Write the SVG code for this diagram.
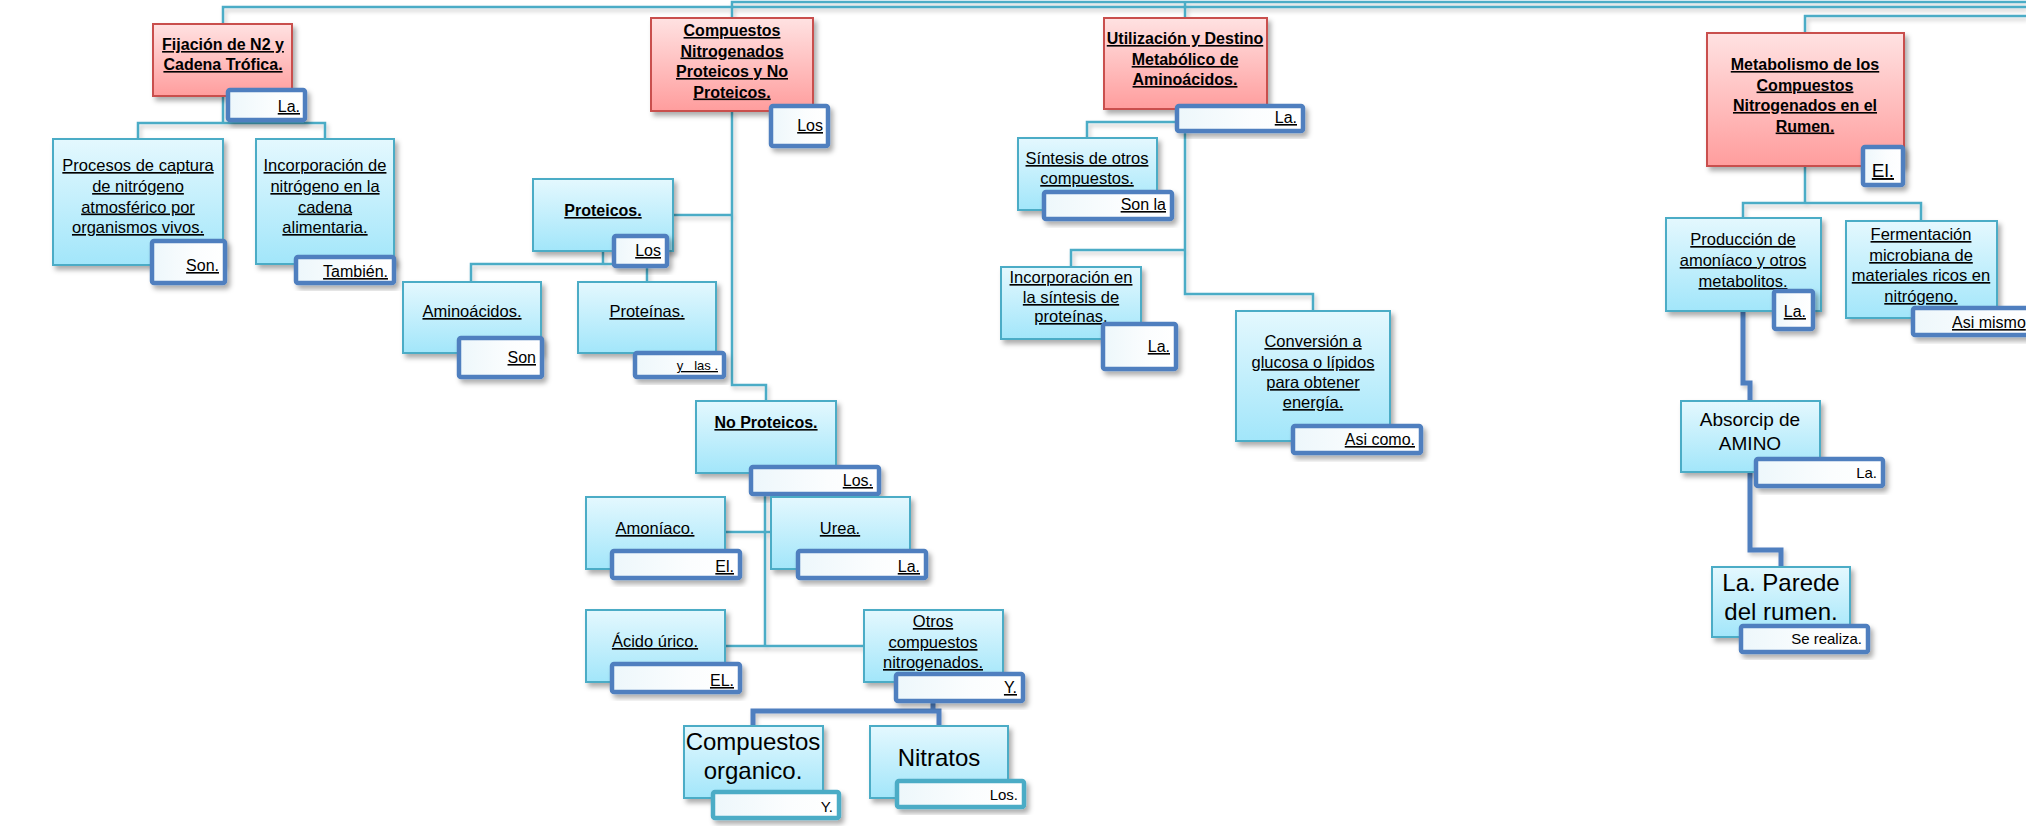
<svg xmlns="http://www.w3.org/2000/svg" width="2026" height="829" viewBox="0 0 2026 829">
<defs>
<linearGradient id="gRed" x1="0" y1="0" x2="0" y2="1"><stop offset="0" stop-color="#ffe2e2"/><stop offset="1" stop-color="#ff9d9d"/></linearGradient>
<linearGradient id="gBlue" x1="0" y1="0" x2="0" y2="1"><stop offset="0" stop-color="#e4f8fe"/><stop offset="1" stop-color="#a2e6fa"/></linearGradient>
<linearGradient id="gLab" x1="0" y1="0" x2="1" y2="0"><stop offset="0" stop-color="#edf7fb"/><stop offset="0.6" stop-color="#fbfdfe"/><stop offset="1" stop-color="#ffffff"/></linearGradient>
<filter id="sh" x="-20%" y="-20%" width="150%" height="150%"><feDropShadow dx="3" dy="4" stdDeviation="2.5" flood-color="#000" flood-opacity="0.32"/></filter>
<filter id="shl" x="-5%" y="-50%" width="110%" height="200%"><feDropShadow dx="2" dy="3" stdDeviation="2" flood-color="#000" flood-opacity="0.22"/></filter>
</defs>
<style>
.red{fill:url(#gRed);stroke:#c9504e;stroke-width:2;filter:url(#sh)}
.blue{fill:url(#gBlue);stroke:#4bacc6;stroke-width:2;filter:url(#sh)}
.lab{fill:url(#gLab);stroke:#4f7fbf;stroke-width:4.5;filter:url(#sh)}
.labt{fill:url(#gLab);stroke:#4bacc6;stroke-width:4.5;filter:url(#sh)}
.ln{fill:none;stroke:#4bacc6;stroke-width:2.5}
.thick{fill:none;stroke:#4f7fbf;stroke-width:5}
text{font-family:"Liberation Sans",Arial,sans-serif;fill:#000}
.b{font-weight:bold;font-size:16px;text-anchor:middle;text-decoration:underline}
.r{font-size:16.5px;text-anchor:middle;text-decoration:underline}
.big{font-size:24px;text-anchor:middle}
.mid{font-size:19px;text-anchor:middle}
.l{font-size:16px;text-anchor:end;text-decoration:underline}
.ln2{font-size:15px;text-anchor:end}
</style>
<g id="connectors" filter="url(#shl)">
<path class="ln" d="M223,24 V7 H2026"/>
<path class="ln" d="M732,18 V2 H2026"/>
<path class="ln" d="M1185,18 V2"/>
<path class="ln" d="M1805,33 V16 H2026"/>
<path class="ln" d="M223,96 V123 M138,139 V123 H325 V139"/>
<path class="ln" d="M732,111 V385 H766 V401 M673,215 H732"/>
<path class="ln" d="M603,251 V264 M471,282 V264 H647 V282"/>
<path class="ln" d="M765,473 V646 M725,532 H771 M725,646 H864"/>
<path class="ln" d="M1185,109 V294 H1313 V311 M1087,138 V122 H1185 M1071,267 V250 H1185"/>
<path class="ln" d="M1805,166 V203 M1743,218 V203 H1921 V221"/>
<path class="thick" d="M933,701 V711 M753,726 V711 H939 V726"/>
<path class="thick" d="M1743,311 V383 H1750 V401"/>
<path class="thick" d="M1750,472 V550 H1781 V567"/>
</g>
<g id="n-fijacion">
<rect class="red" x="153" y="24" width="139" height="72"/>
<text class="b" x="223" y="50">Fijación de N2 y</text>
<text class="b" x="223" y="70">Cadena Trófica.</text>
<rect class="lab" x="228" y="90" width="77" height="30" rx="2"/>
<text class="l" x="300" y="112">La.</text>
</g>
<g id="n-compuestos">
<rect class="red" x="651" y="18" width="162" height="93"/>
<text class="b" x="732" y="36">Compuestos</text>
<text class="b" x="732" y="56.5">Nitrogenados</text>
<text class="b" x="732" y="77">Proteicos y No</text>
<text class="b" x="732" y="97.5">Proteicos.</text>
<rect class="lab" x="771" y="106" width="57" height="40" rx="2"/>
<text class="l" x="823" y="131">Los</text>
</g>
<g id="n-utilizacion">
<rect class="red" x="1104" y="18" width="163" height="91"/>
<text class="b" x="1185" y="44">Utilización y Destino</text>
<text class="b" x="1185" y="65">Metabólico de</text>
<text class="b" x="1185" y="85">Aminoácidos.</text>
<rect class="lab" x="1177" y="106" width="126" height="25" rx="2"/>
<text class="l" x="1297" y="123">La.</text>
</g>
<g id="n-metabolismo">
<rect class="red" x="1707" y="33" width="197" height="133"/>
<text class="b" x="1805" y="70">Metabolismo de los</text>
<text class="b" x="1805" y="90.5">Compuestos</text>
<text class="b" x="1805" y="111">Nitrogenados en el</text>
<text class="b" x="1805" y="131.5">Rumen.</text>
<rect class="lab" x="1863" y="147" width="40" height="38" rx="2"/>
<text class="l" x="1894" y="177" style="font-size:19px">El.</text>
</g>
<g id="n-procesos">
<rect class="blue" x="53" y="139" width="170" height="126"/>
<text class="r" x="138" y="171">Procesos de captura</text>
<text class="r" x="138" y="192">de nitrógeno</text>
<text class="r" x="138" y="212.5">atmosférico por</text>
<text class="r" x="138" y="233">organismos vivos.</text>
<rect class="lab" x="152" y="241" width="73" height="42" rx="2"/>
<text class="l" x="219" y="271">Son.</text>
</g>
<g id="n-incorporacion-cadena">
<rect class="blue" x="256" y="139" width="138" height="125"/>
<text class="r" x="325" y="171">Incorporación de</text>
<text class="r" x="325" y="192">nitrógeno en la</text>
<text class="r" x="325" y="212.5">cadena</text>
<text class="r" x="325" y="233">alimentaria.</text>
<rect class="lab" x="296" y="257" width="98" height="26" rx="2"/>
<text class="l" x="388" y="277">También.</text>
</g>
<g id="n-proteicos">
<rect class="blue" x="533" y="179" width="140" height="72"/>
<text class="b" x="603" y="216">Proteicos.</text>
<rect class="lab" x="614" y="236" width="53" height="30" rx="2"/>
<text class="l" x="661" y="256">Los</text>
</g>
<g id="n-aminoacidos">
<rect class="blue" x="403" y="282" width="138" height="71"/>
<text class="r" x="472" y="317">Aminoácidos.</text>
<rect class="lab" x="459" y="338" width="83" height="39" rx="2"/>
<text class="l" x="536" y="363">Son</text>
</g>
<g id="n-proteinas">
<rect class="blue" x="578" y="282" width="138" height="71"/>
<text class="r" x="647" y="317">Proteínas.</text>
<rect class="lab" x="635" y="353" width="89" height="24" rx="2"/>
<text class="l" x="718" y="370" style="font-size:13px" xml:space="preserve">y   las .</text>
</g>
<g id="n-noproteicos">
<rect class="blue" x="696" y="401" width="140" height="72"/>
<text class="b" x="766" y="428">No Proteicos.</text>
<rect class="lab" x="751" y="467" width="128" height="27" rx="2"/>
<text class="l" x="873" y="486">Los.</text>
</g>
<g id="n-amoniaco">
<rect class="blue" x="586" y="497" width="139" height="72"/>
<text class="r" x="655" y="534">Amoníaco.</text>
<rect class="lab" x="612" y="551" width="128" height="27" rx="2"/>
<text class="l" x="734" y="572">El.</text>
</g>
<g id="n-urea">
<rect class="blue" x="771" y="497" width="139" height="72"/>
<text class="r" x="840" y="534">Urea.</text>
<rect class="lab" x="798" y="551" width="128" height="27" rx="2"/>
<text class="l" x="920" y="572">La.</text>
</g>
<g id="n-acido">
<rect class="blue" x="586" y="610" width="139" height="72"/>
<text class="r" x="655" y="647">Ácido úrico.</text>
<rect class="lab" x="612" y="664" width="128" height="28" rx="2"/>
<text class="l" x="734" y="686">EL.</text>
</g>
<g id="n-otros">
<rect class="blue" x="864" y="610" width="139" height="72"/>
<text class="r" x="933" y="627">Otros</text>
<text class="r" x="933" y="648">compuestos</text>
<text class="r" x="933" y="668">nitrogenados.</text>
<rect class="lab" x="896" y="674" width="127" height="27" rx="2"/>
<text class="l" x="1017" y="693">Y.</text>
</g>
<g id="n-organico">
<rect class="blue" x="684" y="726" width="139" height="72"/>
<text class="big" x="753" y="750">Compuestos</text>
<text class="big" x="753" y="779">organico.</text>
<rect class="labt" x="713" y="792" width="126" height="26" rx="2"/>
<text class="ln2" x="833" y="812">Y.</text>
</g>
<g id="n-nitratos">
<rect class="blue" x="870" y="726" width="138" height="72"/>
<text class="big" x="939" y="766">Nitratos</text>
<rect class="labt" x="897" y="781" width="127" height="26" rx="2"/>
<text class="ln2" x="1018" y="800">Los.</text>
</g>
<g id="n-sintesis">
<rect class="blue" x="1018" y="138" width="139" height="72"/>
<text class="r" x="1087" y="164">Síntesis de otros</text>
<text class="r" x="1087" y="184">compuestos.</text>
<rect class="lab" x="1044" y="192" width="128" height="27" rx="2"/>
<text class="l" x="1166" y="210">Son la</text>
</g>
<g id="n-incorporacion-sintesis">
<rect class="blue" x="1001" y="267" width="140" height="72"/>
<text class="r" x="1071" y="283">Incorporación en</text>
<text class="r" x="1071" y="303">la síntesis de</text>
<text class="r" x="1071" y="322">proteínas.</text>
<rect class="lab" x="1103" y="324" width="73" height="45" rx="2"/>
<text class="l" x="1170" y="352">La.</text>
</g>
<g id="n-conversion">
<rect class="blue" x="1236" y="311" width="154" height="130"/>
<text class="r" x="1313" y="347">Conversión a</text>
<text class="r" x="1313" y="368">glucosa o lípidos</text>
<text class="r" x="1313" y="388">para obtener</text>
<text class="r" x="1313" y="408">energía.</text>
<rect class="lab" x="1293" y="426" width="128" height="27" rx="2"/>
<text class="l" x="1415" y="445">Asi como.</text>
</g>
<g id="n-produccion">
<rect class="blue" x="1666" y="218" width="155" height="93"/>
<text class="r" x="1743" y="245">Producción de</text>
<text class="r" x="1743" y="266">amoníaco y otros</text>
<text class="r" x="1743" y="287">metabolitos.</text>
<rect class="lab" x="1774" y="291" width="39" height="38" rx="2"/>
<text class="l" x="1806" y="317">La.</text>
</g>
<g id="n-fermentacion">
<rect class="blue" x="1846" y="221" width="151" height="97"/>
<text class="r" x="1921" y="240">Fermentación</text>
<text class="r" x="1921" y="261">microbiana de</text>
<text class="r" x="1921" y="281">materiales ricos en</text>
<text class="r" x="1921" y="302">nitrógeno.</text>
<rect class="lab" x="1913" y="308" width="140" height="27" rx="2"/>
<text x="1952" y="328" style="font-size:16px;text-decoration:underline">Asi mismo</text>
</g>
<g id="n-absorcip">
<rect class="blue" x="1681" y="401" width="139" height="71"/>
<text class="mid" x="1750" y="426">Absorcip de</text>
<text class="mid" x="1750" y="450">AMINO</text>
<rect class="lab" x="1756" y="459" width="127" height="27" rx="2"/>
<text class="ln2" x="1877" y="478">La.</text>
</g>
<g id="n-parede">
<rect class="blue" x="1712" y="567" width="138" height="70"/>
<text class="big" x="1781" y="591">La. Parede</text>
<text class="big" x="1781" y="620">del rumen.</text>
<rect class="lab" x="1741" y="626" width="127" height="26" rx="2"/>
<text class="ln2" x="1862" y="644">Se realiza.</text>
</g>
</svg>
